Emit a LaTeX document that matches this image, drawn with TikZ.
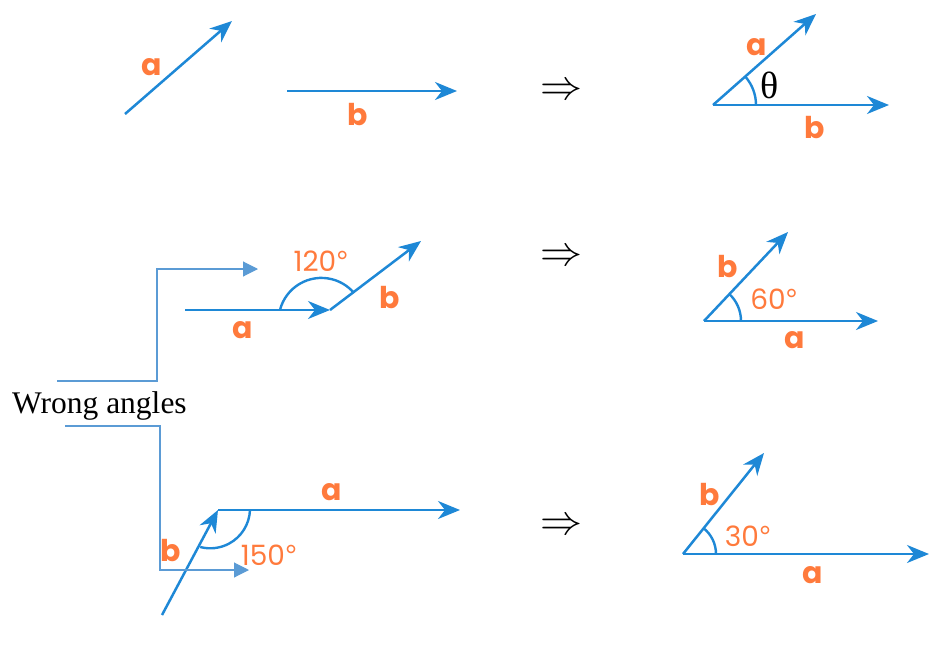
\documentclass[tikz,border=0pt]{standalone}
\usepackage{fontspec}
\setmainfont{Liberation Serif}
\newfontfamily\poppins{Poppins}
\newfontfamily\degfont{Open Sans}
\newcommand{\dg}{{\degfont °}}
\usetikzlibrary{arrows.meta}
\definecolor{vblue}{RGB}{30,136,214}
\definecolor{lorange}{RGB}{255,122,60}
\definecolor{cblue}{RGB}{91,155,213}
\tikzset{
  vec/.style={draw=vblue, line width=2.5pt, -{Stealth[length=22pt,width=18pt,inset=7pt]}},
  ang/.style={draw=vblue, line width=2.4pt},
  lbl/.style={text=lorange, font=\poppins\bfseries\fontsize{30}{32}\selectfont, inner sep=0pt},
  deg/.style={text=lorange, font=\poppins\fontsize{28}{30}\selectfont, inner sep=0pt},
  conn/.style={draw=cblue, line width=1.1pt, -{Triangle[length=15pt,width=15pt]}},
  impl/.style={scale=4.2, inner sep=0pt},
  serif/.style={font=\fontsize{31.5}{36}\selectfont, inner sep=0pt}
}
\begin{document}
\begin{tikzpicture}[x=1pt,y=1pt]
\useasboundingbox (0,0) rectangle (952,-645);
% ---------- Row 1 ----------
\coordinate (a1s) at (125,-114); \coordinate (a1e) at (232,-21);
\coordinate (b1s) at (287,-91);  \coordinate (b1e) at (457,-91);
\draw[vec] (a1s) -- (a1e);
\draw[vec] (b1s) -- (b1e);
\node[lbl] (la1) at (152,-67) {a};
\node[lbl] (lb1) at (358,-115) {b};
\node[impl] (im1) at (561,-92) {$\Rightarrow$};
\coordinate (O1) at (713,-105); \coordinate (A1) at (816,-14); \coordinate (B1) at (889,-105);
\draw[ang] ([xshift=43pt]O1) arc[start angle=0,end angle=41.5,radius=43];
\draw[vec] (O1) -- (A1);
\draw[vec] (O1) -- (B1);
\node[serif,font=\fontsize{38}{42}\selectfont] (th) at (770,-85) {θ};
\node[lbl] (ra1) at (757,-47) {a};
\node[lbl] (rb1) at (815,-128) {b};
% ---------- Row 2 ----------
\coordinate (a2s) at (185,-310); \coordinate (J2) at (330,-310); \coordinate (b2e) at (421,-241);
\draw[ang] (321.4,-320.7) ++(165.5:42.8) arc[start angle=165.5,end angle=42.2,radius=42.8];
\draw[vec] (a2s) -- (J2);
\draw[vec] (J2) -- (b2e);
\node[deg] (d120) at (321,-261) {120\dg};
\node[lbl] (la2) at (243,-330) {a};
\node[lbl] (lb2) at (390,-298) {b};
\node[impl] (im2) at (561,-258) {$\Rightarrow$};
\coordinate (O2) at (704,-321); \coordinate (B2) at (788,-232); \coordinate (A2) at (878,-321);
\draw[ang] ([xshift=37pt]O2) arc[start angle=0,end angle=46.7,radius=37];
\draw[vec] (O2) -- (B2);
\draw[vec] (O2) -- (A2);
\node[deg] (d60) at (774,-299) {60\dg};
\node[lbl] (rb2) at (728,-267) {b};
\node[lbl] (ra2) at (795,-340) {a};
% ---------- Row 3 ----------
\coordinate (b3s) at (162,-615); \coordinate (J3) at (218,-510); \coordinate (a3e) at (460,-510);
\draw[ang] (210.3,-508.6) ++(-2:39.7) arc[start angle=-2,end angle=-104.7,radius=39.7];
\draw[vec] (b3s) -- (J3);
\draw[vec] (J3) -- (a3e);
\node[lbl] (la3) at (332,-492) {a};
\node[lbl] (lb3) at (171,-551) {b};
\node[deg] (d150) at (269,-555) {150\dg};
\node[impl] (im3) at (561,-527) {$\Rightarrow$};
\coordinate (O3) at (683,-554); \coordinate (B3) at (764,-453); \coordinate (A3) at (929,-554);
\draw[ang] ([xshift=33pt]O3) arc[start angle=0,end angle=51.3,radius=33];
\draw[vec] (O3) -- (B3);
\draw[vec] (O3) -- (A3);
\node[deg] (d30) at (748,-536) {30\dg};
\node[lbl] (rb3) at (710,-495) {b};
\node[lbl] (ra3) at (813,-575) {a};
% ---------- Wrong angles callout ----------
\node[serif, anchor=base west] (wa) at (12,-413) {Wrong angles};
\coordinate (c1s) at (57,-381); \coordinate (c1a) at (157,-381);
\coordinate (c1b) at (157,-269); \coordinate (c1e) at (258,-269);
\draw[conn] (c1s) -- (c1a) -- (c1b) -- (c1e);
\coordinate (c2s) at (65,-426); \coordinate (c2a) at (160,-426);
\coordinate (c2b) at (160,-570); \coordinate (c2e) at (249,-570);
\draw[conn] (c2s) -- (c2a) -- (c2b) -- (c2e);
\end{tikzpicture}
\end{document}
